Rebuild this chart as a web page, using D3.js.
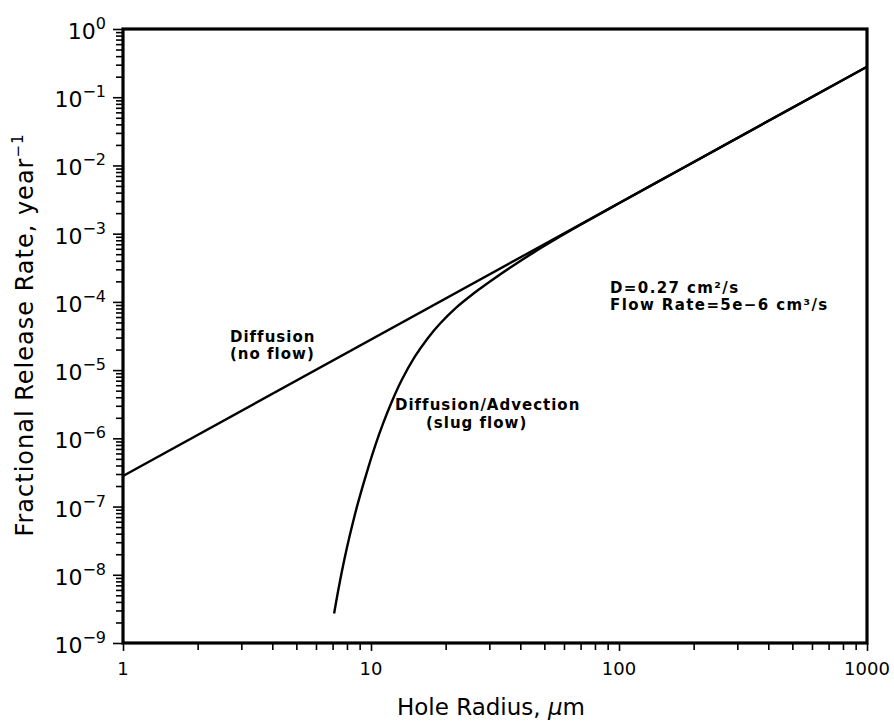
<!DOCTYPE html>
<html>
<head>
<meta charset="utf-8">
<script src="https://cdn.jsdelivr.net/npm/d3@7"></script>
<style>
  html, body { margin: 0; padding: 0; background: #fff; }
  svg { display: block; }
  text { fill: #000; }
</style>
</head>
<body>
<div id="chart"></div>
<script>
// data
const diffusionRadius = [1, 1000];
const diffusionRate = [2.8e-7, 0.28];

const slugRadius = [7.1, 7.4, 7.8, 8.2, 8.8, 9.6, 10.4, 11.2, 12.2, 13.3, 15, 17, 19, 22, 26, 27.5, 31, 37, 45, 55, 70, 100, 150, 250, 1000];
const slugRate = [2.7e-9, 6.29e-9, 1.64e-8, 3.69e-8, 1.03e-7, 3.1e-7, 7.84e-7, 1.67e-6, 3.61e-6, 7.15e-6, 1.56e-5, 2.99e-5, 4.83e-5, 8.18e-5, 1.34e-4, 1.56e-4, 2.13e-4, 3.3e-4, 5.23e-4, 8.13e-4, 1.349e-3, 2.793e-3, 6.298e-3, 1.75e-2, 0.28];

const xTickLabels = [1, 10, 100, 1000];
const yTickExponents = [0, -1, -2, -3, -4, -5, -6, -7, -8, -9];

const W = 894, H = 726;
const margin = { top: 29, right: 27, bottom: 83, left: 123 };
const iw = W - margin.left - margin.right;
const ih = H - margin.top - margin.bottom;
const FONT = "'DejaVu Sans', sans-serif";

const svg = d3.select("#chart").append("svg")
  .attr("width", W)
  .attr("height", H)
  .style("font-family", FONT);

const g = svg.append("g").attr("transform", `translate(${margin.left},${margin.top})`);

const x = d3.scaleLog().domain([1, 1000]).range([0, iw]);
const y = d3.scaleLog().domain([1e-9, 1]).range([ih, 0]);

// minor ticks 2..9 in each decade
const xMinor = [];
for (let d = 1; d < 1000; d *= 10) for (let k = 2; k <= 9; k++) xMinor.push(d * k);
const yMinor = [];
for (let e = -9; e < 0; e++) for (let k = 2; k <= 9; k++) yMinor.push(k * Math.pow(10, e));

function styleAxis(sel) {
  sel.select(".domain").remove();
  sel.selectAll(".tick line").attr("stroke", "#000").attr("stroke-width", 1.6);
  sel.selectAll(".tick text").remove();
}

g.append("g").attr("transform", `translate(0,${ih})`)
  .call(d3.axisBottom(x).tickValues(xMinor).tickSize(7).tickFormat(""))
  .call(styleAxis);
g.append("g").attr("transform", `translate(0,${ih})`)
  .call(d3.axisBottom(x).tickValues(xTickLabels).tickSize(8).tickFormat(""))
  .call(styleAxis);

g.append("g")
  .call(d3.axisLeft(y).tickValues(yMinor).tickSize(7).tickFormat(""))
  .call(styleAxis);
g.append("g")
  .call(d3.axisLeft(y).tickValues(yTickExponents.map(e => Math.pow(10, e))).tickSize(10).tickFormat(""))
  .call(styleAxis);

// x tick labels
g.append("g").selectAll("text")
  .data(xTickLabels)
  .join("text")
  .attr("x", d => x(d))
  .attr("y", ih + 32)
  .attr("text-anchor", "middle")
  .style("font-size", "18px")
  .text(d => d);

// y tick labels: 10 with superscript exponent
const yl = g.append("g").selectAll("text")
  .data(yTickExponents)
  .join("text")
  .attr("x", -17)
  .attr("y", d => y(Math.pow(10, d)) + 10)
  .attr("text-anchor", "end");
yl.append("tspan").style("font-size", "22px").text("10");
yl.append("tspan").style("font-size", "16px").attr("dy", -10)
  .text(d => d === 0 ? "0" : "\u2212" + Math.abs(d));

// curves
const line = d3.line()
  .x(d => x(d[0]))
  .y(d => y(d[1]))
  .curve(d3.curveCatmullRom.alpha(0.5));

g.append("path")
  .datum(diffusionRadius.map((r, i) => [r, diffusionRate[i]]))
  .attr("d", line)
  .attr("fill", "none")
  .attr("stroke", "#000")
  .attr("stroke-width", 2.4);

g.append("path")
  .datum(slugRadius.map((r, i) => [r, slugRate[i]]))
  .attr("d", line)
  .attr("fill", "none")
  .attr("stroke", "#000")
  .attr("stroke-width", 2.4);

// frame
g.append("rect")
  .attr("x", 0).attr("y", 0)
  .attr("width", iw).attr("height", ih)
  .attr("fill", "none")
  .attr("stroke", "#000")
  .attr("stroke-width", 3.2);

// annotations
function note(lines, px, py, dyLine, spacing) {
  const t = svg.append("text")
    .attr("x", px).attr("y", py)
    .style("font-size", "15px")
    .style("font-weight", "bold")
    .style("letter-spacing", spacing + "px");
  lines.forEach((s, i) => {
    t.append("tspan")
      .attr("x", px + (s.indent || 0))
      .attr("dy", i === 0 ? 0 : dyLine)
      .text(s.text);
  });
}

note([{ text: "Diffusion" }, { text: "(no flow)" }], 230, 342, 17, 1);
note([{ text: "Diffusion/Advection" }, { text: "(slug flow)", indent: 31 }], 395, 410, 18, 1);
note([{ text: "D=0.27 cm\u00b2/s" }, { text: "Flow Rate=5e\u22126 cm\u00b3/s" }], 610, 293, 17, 1.4);

// axis titles
const xt = svg.append("text")
  .attr("x", 491)
  .attr("y", 715)
  .attr("text-anchor", "middle")
  .style("font-size", "23px");
xt.append("tspan").text("Hole Radius, ");
xt.append("tspan").style("font-style", "italic").text("\u03bc");
xt.append("tspan").text("m");

const yt = svg.append("text")
  .attr("transform", "translate(33,335) rotate(-90)")
  .attr("text-anchor", "middle")
  .style("font-size", "24px")
  .style("letter-spacing", "1px");
yt.append("tspan").text("Fractional Release Rate, year");
yt.append("tspan").style("font-size", "15px").attr("dy", -10).text("\u22121");
</script>
</body>
</html>
